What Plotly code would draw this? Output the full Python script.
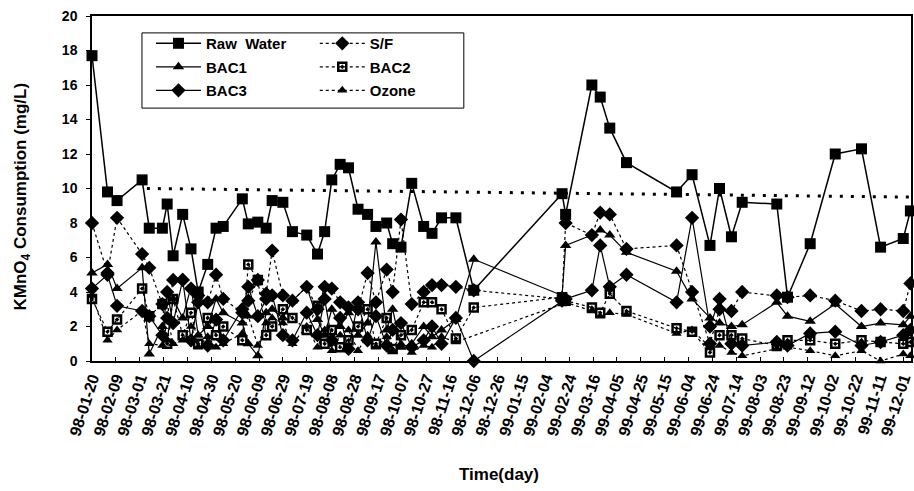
import plotly.graph_objects as go

# ---------------- data ----------------
dates_98 = ["1998-01-20", "1998-02-02", "1998-02-10", "1998-03-03", "1998-03-09", "1998-03-20",
            "1998-03-24", "1998-03-29", "1998-04-06", "1998-04-13", "1998-04-19", "1998-04-27",
            "1998-05-04", "1998-05-10", "1998-05-26", "1998-05-31", "1998-06-08", "1998-06-15",
            "1998-06-20", "1998-06-29", "1998-07-07", "1998-07-19", "1998-07-28", "1998-08-03",
            "1998-08-09", "1998-08-16", "1998-08-23", "1998-08-31", "1998-09-08", "1998-09-15",
            "1998-09-24", "1998-09-29", "1998-10-06", "1998-10-15", "1998-10-25", "1998-11-01",
            "1998-11-09", "1998-11-21", "1998-12-06"]
dates_99 = ["1999-02-18", "1999-02-21", "1999-03-15", "1999-03-22", "1999-03-30", "1999-04-13",
            "1999-05-25", "1999-06-07", "1999-06-22", "1999-06-30", "1999-07-10", "1999-07-19",
            "1999-08-17", "1999-08-26", "1999-09-14", "1999-10-05", "1999-10-27", "1999-11-12",
            "1999-12-01", "1999-12-07"]
dates = dates_98 + dates_99

raw_water = [17.7, 9.8, 9.3, 10.5, 7.7, 7.7, 9.1, 6.1, 8.5, 6.5, 4.0, 5.6, 7.7, 7.8, 9.4, 7.95,
             8.05, 7.7, 9.3, 9.2, 7.5, 7.3, 6.2, 7.5, 10.5, 11.4, 11.2, 8.8, 8.5, 7.8, 8.0, 6.8,
             6.6, 10.3, 7.8, 7.4, 8.3, 8.3, 4.1,
             9.7, 8.5, 16.0, 15.3, 13.5, 11.5, 9.8, 10.8, 6.7, 10.0, 7.2, 9.2, 9.1, 3.7, 6.8,
             12.0, 12.3, 6.6, 7.1, 8.7]
s_f = [8.0, 5.1, 8.3, 6.2, 5.4, 3.3, 2.5, 4.7, 4.7, 4.2, 3.8, 3.4, 5.0, 3.6, 2.8, 3.5,
       4.7, 3.9, 6.4, 3.8, 3.5, 4.3, 3.0, 4.3, 4.2, 3.4, 3.1, 3.0, 5.1, 3.4, 5.3, 4.0,
       8.2, 3.3, 4.0, 4.4, 4.4, 4.3, 4.1,
       3.6, 8.0, 7.3, 8.6, 8.5, 6.5, 6.7, 4.0, 1.0, 3.0, 2.9, 4.0, 3.8, 3.7, 3.8,
       3.5, 2.9, 3.0, 2.9, 4.5]
bac1 = [5.1, 5.6, 4.2, 5.4, 0.4, 2.0, 1.2, 3.6, 2.5, 4.3, 1.5, 2.0, 3.6, 2.8, 2.2, 1.0,
        0.3, 2.8, 3.0, 2.5, 3.5, 4.3, 2.4, 1.5, 3.0, 2.0, 2.8, 1.5, 2.2, 6.9, 1.8, 3.0,
        0.8, 1.0, 2.0, 1.4, 1.8, 2.4, 5.9,
        3.8, 6.7, 7.3, 7.6, 7.3, 6.3, 5.2, 3.6, 2.5, 2.2, 2.0, 2.1, 3.4, 2.6, 2.3,
        3.3, 2.0, 2.2, 2.1, 2.6]
bac2 = [3.6, 1.7, 2.4, 4.2, 2.6, 3.3, 1.0, 3.6, 1.5, 2.8, 1.0, 2.5, 1.5, 2.0, 1.2, 5.6,
        4.7, 1.5, 2.0, 3.0, 2.5, 1.8, 3.2, 1.0, 1.8, 0.8, 1.2, 2.0, 3.0, 1.0, 2.5, 0.7,
        1.5, 1.8, 3.4, 3.4, 3.0, 1.3, 3.1,
        3.7, 3.5, 3.1, 2.8, 3.9, 2.9, 1.9, 1.7, 0.5, 1.5, 1.5, 1.3, 0.9, 1.2, 1.2,
        1.0, 1.2, 1.1, 1.0, 1.1]
bac3 = [4.2, 5.0, 3.2, 2.9, 2.6, 1.5, 4.0, 2.2, 4.7, 1.2, 3.4, 0.9, 2.4, 1.2, 3.0, 4.3,
        2.6, 3.6, 3.8, 1.5, 1.2, 2.8, 1.5, 3.6, 1.2, 2.5, 0.7, 3.4, 1.2, 2.6, 0.9, 1.8,
        2.2, 0.8, 1.2, 2.0, 1.0, 2.5, 0.0,
        3.5, 3.6, 4.1, 6.7, 4.3, 5.0, 3.4, 8.3, 2.0, 3.6, 1.0, 0.9, 1.1, 0.9, 1.6,
        1.7, 0.9, 1.1, 1.5, 1.8]
ozone = [3.8, 1.2, 1.8, 2.9, 1.0, 0.9, 2.6, 1.0, 1.2, 2.0, 0.8, 1.4, 0.8, 1.0, 1.6, 2.6,
         0.9, 2.2, 2.5, 2.2, 1.0, 2.0, 0.8, 1.8, 0.6, 1.5, 1.8, 0.6, 1.5, 0.8, 1.4, 0.6,
         1.0, 0.5, 0.9, 0.8, 1.4, 1.1, None,
         3.3, 3.4, 2.9, 2.6, 2.8, 2.7, 1.6, 1.8, 0.8, 0.9, 0.5, 0.3, 0.7, 0.8, 0.6,
         0.3, 0.6, 0.0, 0.4, 0.3]

ref_dates = ["1998-03-07", "1999-12-07 12:00"]
ref_values = [10.0, 9.5]

series_names = ["Raw  Water", "S/F", "BAC1", "BAC2", "BAC3", "Ozone"]
series_values = [raw_water, s_f, bac1, bac2, bac3, ozone]
x_ticks_start = "1998-01-20"
x_range = ["1998-01-20", "1999-12-07 12:00"]

# ---------------- styles ----------------
styles = {
    "Raw  Water": dict(symbol="square", size=11, dash="solid", width=1.5, legend="legend"),
    "S/F": dict(symbol="diamond", size=11, dash="dot", width=1.2, legend="legend2"),
    "BAC1": dict(symbol="triangle-up", size=10, dash="solid", width=1.2, legend="legend"),
    "BAC2": dict(symbol="square-open-dot", size=8, dash="dot", width=1.2, legend="legend2"),
    "BAC3": dict(symbol="diamond", size=11, dash="solid", width=1.2, legend="legend"),
    "Ozone": dict(symbol="triangle-up", size=9, dash="dot", width=1.2, legend="legend2"),
}

FONT = "Liberation Sans, Arial, Helvetica, sans-serif"

fig = go.Figure()
for name, vals in zip(series_names, series_values):
    st = styles[name]
    mk = dict(symbol=st["symbol"], size=st["size"], color="black")
    if "open" in st["symbol"]:
        mk["line"] = dict(color="black", width=2.5)
    fig.add_trace(go.Scatter(
        x=dates, y=vals, name=name, mode="lines+markers",
        line=dict(color="black", width=st["width"], dash=st["dash"]),
        marker=mk, connectgaps=True, cliponaxis=False,
        legend=st["legend"], legendgroup=name,
    ))

fig.add_trace(go.Scatter(
    x=ref_dates, y=ref_values, mode="lines", showlegend=False,
    line=dict(color="black", width=3, dash="3px,8px"), hoverinfo="skip",
))

legend_common = dict(
    orientation="v", xanchor="left", yanchor="top",
    bgcolor="rgba(0,0,0,0)", borderwidth=0, tracegroupgap=1, itemwidth=45,
    font=dict(family=FONT, size=15, color="black", weight="bold"),
)

fig.update_layout(
    width=914, height=491,
    margin=dict(l=92, r=1, t=16, b=130),
    paper_bgcolor="white", plot_bgcolor="white",
    font=dict(family=FONT, color="black"),
    showlegend=True,
    legend=dict(x=0.072, y=0.968, **legend_common),
    legend2=dict(x=0.272, y=0.968, **legend_common),
    shapes=[dict(type="rect", xref="paper", yref="paper", x0=0.061, x1=0.454,
                 y0=0.733, y1=0.951, line=dict(color="black", width=1),
                 fillcolor="white", layer="below")],
    xaxis=dict(
        type="date", range=x_range, tick0=x_ticks_start, dtick=20 * 86400000,
        tickformat="%y-%m-%d", tickangle=-72,
        tickfont=dict(family=FONT, size=16, color="black", weight="bold"),
        ticks="inside", ticklen=4, tickcolor="black",
        showline=True, linecolor="black", linewidth=1.5, mirror=True,
        showgrid=False, zeroline=False,
    ),
    yaxis=dict(
        range=[0, 20], dtick=2, tick0=0,
        tickfont=dict(family=FONT, size=14, color="black", weight="bold"),
        ticks="outside", ticklen=4, tickcolor="black", ticklabelstandoff=6,
        showline=True, linecolor="black", linewidth=1.5, mirror=True,
        showgrid=False, zeroline=False,
    ),
    annotations=[
        dict(text="KMnO<sub>4</sub> Consumption (mg/L)", xref="paper", yref="paper",
             x=-0.085, y=0.478, xanchor="center", yanchor="middle", textangle=-90,
             showarrow=False, font=dict(family=FONT, size=17, color="black", weight="bold")),
        dict(text="Time(day)", xref="paper", yref="paper",
             x=0.497, y=-0.33, xanchor="center", yanchor="middle",
             showarrow=False, font=dict(family=FONT, size=17, color="black", weight="bold")),
    ],
)

fig.write_html("out.html")
